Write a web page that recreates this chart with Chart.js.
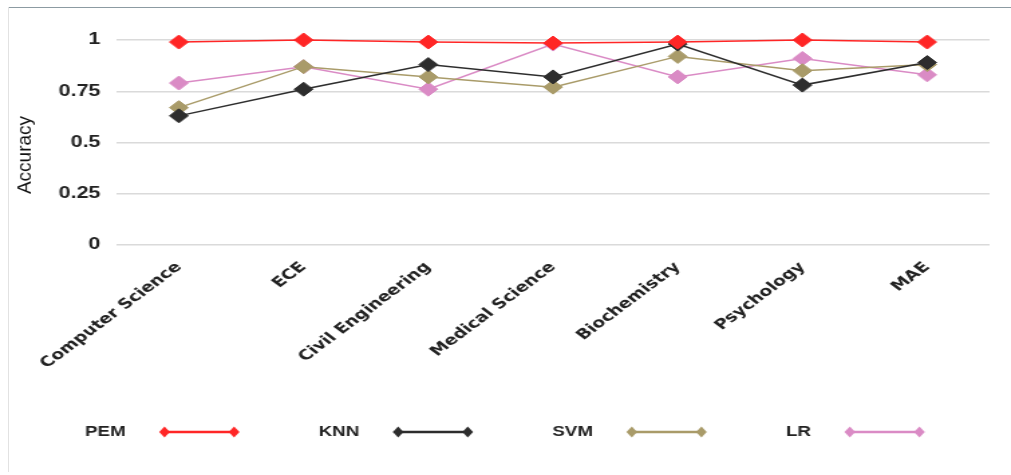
<!DOCTYPE html>
<html>
<head>
<meta charset="utf-8">
<script src="https://cdn.jsdelivr.net/npm/chart.js@4/dist/chart.umd.min.js"></script>
<style>
	html, body { margin: 0; padding: 0; background: #fff; }
	body { width: 1011px; height: 475px; position: relative; overflow: hidden; }
	#frameTop { position: absolute; left: 8px; right: 0; top: 7px; height: 1px; background: #8c9ba2; }
	#frameLeft { position: absolute; left: 8px; top: 7px; bottom: 3px; width: 1px; background: #e2e2e2; }
	#wrap { position: absolute; left: 0; top: 0; width: 755px; height: 475px; transform: scaleX(1.339); transform-origin: 0 0; }
</style>
</head>
<body>
<div id="frameTop"></div>
<div id="frameLeft"></div>
<div id="wrap"><canvas id="chart"></canvas></div>
<script>
	const categories = ["Computer Science", "ECE", "Civil Engineering", "Medical Science", "Biochemistry", "Psychology", "MAE"];
	const pem = [0.99, 1.0, 0.99, 0.985, 0.99, 1.0, 0.99];
	const knn = [0.63, 0.76, 0.88, 0.82, 0.98, 0.78, 0.89];
	const svm = [0.67, 0.87, 0.82, 0.77, 0.92, 0.85, 0.88];
	const lr = [0.79, 0.87, 0.76, 0.98, 0.82, 0.91, 0.83];
	const yTicks = [0, 0.25, 0.5, 0.75, 1];
	const yTitle = "Accuracy";

	const stretch = 1.339; // the page is shown stretched sideways

	function series(label, data, color) {
		return {
			label: label,
			data: data,
			borderColor: color,
			backgroundColor: color,
			borderWidth: 1.5,
			pointStyle: "rectRot",
			pointRadius: 7,
			pointBorderWidth: 1,
			pointBorderColor: color,
			pointBackgroundColor: color,
			tension: 0,
			clip: false,
		};
	}

	// y title is not stretched in the original, so undo the stretch for it
	const axisTitle = {
		id: "axisTitle",
		afterDraw(chart) {
			const ctx = chart.ctx;
			ctx.save();
			ctx.translate(19.5, 155);
			ctx.scale(1 / stretch, 1);
			ctx.rotate(-Math.PI / 2);
			ctx.font = "19px 'Liberation Sans', Arial, sans-serif";
			ctx.fillStyle = "#111";
			ctx.textAlign = "center";
			ctx.textBaseline = "middle";
			ctx.fillText(yTitle, 0, 0);
			ctx.restore();
		},
	};

	// legend: label text first, then a line sample with a diamond at each end
	const lineLegend = {
		id: "lineLegend",
		afterDraw(chart) {
			const ctx = chart.ctx;
			const y = 432;
			const col = 174.5;
			ctx.save();
			ctx.font = "bold 14px 'Liberation Sans', Arial, sans-serif";
			ctx.textBaseline = "middle";
			ctx.textAlign = "left";
			chart.data.datasets.forEach((ds, i) => {
				const x = 63.5 + i * col;
				ctx.fillStyle = "#222";
				ctx.fillText(ds.label, x, y);
				const x1 = x + ctx.measureText(ds.label).width + 29;
				const x2 = x1 + 52;
				ctx.strokeStyle = ds.borderColor;
				ctx.lineWidth = 2.5;
				ctx.beginPath();
				ctx.moveTo(x1, y);
				ctx.lineTo(x2, y);
				ctx.stroke();
				ctx.fillStyle = ds.borderColor;
				[x1, x2].forEach((px) => {
					ctx.beginPath();
					ctx.moveTo(px, y - 5.5);
					ctx.lineTo(px + 4, y);
					ctx.lineTo(px, y + 5.5);
					ctx.lineTo(px - 4, y);
					ctx.closePath();
					ctx.fill();
				});
			});
			ctx.restore();
		},
	};

	const ctx = document.getElementById("chart");
	new Chart(ctx, {
		type: "line",
		data: {
			labels: categories,
			datasets: [
				series("PEM", pem, "#ff2626"),
				series("KNN", knn, "#2d2d2d"),
				series("SVM", svm, "#a99b69"),
				series("LR", lr, "#da8bc5"),
			],
		},
		options: {
			responsive: true,
			maintainAspectRatio: false,
			animation: false,
			layout: { padding: { top: 40, right: 16, bottom: 0, left: 0 } },
			plugins: {
				legend: { display: false },
				tooltip: { enabled: false },
			},
			scales: {
				x: {
					offset: true,
					grid: { display: false },
					border: { display: false },
					ticks: {
						autoSkip: false,
						minRotation: 45,
						maxRotation: 45,
						padding: 6,
						color: "#222",
						font: { family: "'DejaVu Sans', sans-serif", size: 14, weight: "bold" },
					},
					afterFit(scale) {
						scale.height = 230;
					},
				},
				y: {
					min: 0,
					max: 1,
					grid: { color: "#dadada", lineWidth: 1.5, drawTicks: false },
					border: { display: false },
					afterBuildTicks(scale) {
						scale.ticks = yTicks.map((v) => ({ value: v }));
					},
					ticks: {
						padding: 12,
						color: "#222",
						font: { family: "'Liberation Sans', Arial, sans-serif", size: 16, weight: "bold" },
						callback: (v) => String(v),
					},
					afterFit(scale) {
						scale.width = 87;
					},
				},
			},
		},
		plugins: [axisTitle, lineLegend],
	});
</script>
</body>
</html>
